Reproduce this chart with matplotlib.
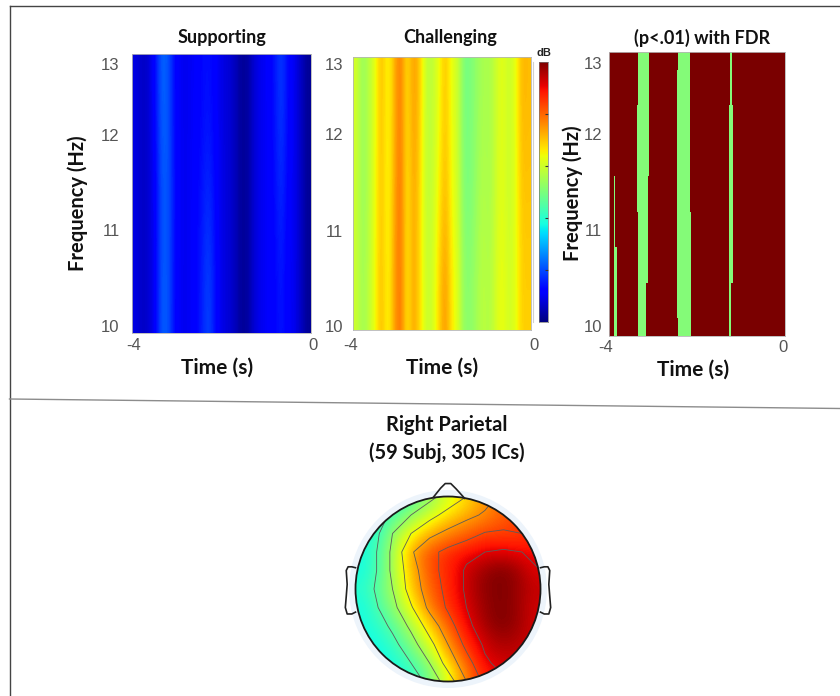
"""Alpha power time-frequency panels and a right parietal scalp map."""

import matplotlib

matplotlib.use("Agg")
import matplotlib.pyplot as plt
import numpy as np
from matplotlib.patches import Circle

WIDTH, HEIGHT = 840, 696

# dB level (0-1 colour scale) per time column, rows run from low to high frequency
supporting_low = [.09, .06, .07, .11, .22, .21, .12, .10, .10, .12, .15, .20, .14, .09,
                  .08, .06, .02, .03, .08, .10, .11, .12, .15, .11, .10, .06, .02]
supporting_mid = [.09, .06, .07, .11, .21, .21, .13, .10, .10, .12, .14, .17, .13, .09,
                  .08, .06, .02, .03, .08, .10, .11, .13, .17, .12, .10, .06, .02]
supporting_high = [.09, .06, .07, .13, .23, .21, .12, .10, .10, .11, .13, .14, .12, .09,
                   .08, .06, .02, .03, .08, .10, .11, .14, .19, .13, .10, .06, .02]
supporting = [supporting_low, supporting_mid, supporting_high]

challenging_low = [.60, .54, .58, .64, .72, .63, .74, .80, .65, .74, .68, .59, .60, .68,
                   .76, .66, .62, .52, .52, .55, .58, .56, .61, .64, .60, .62, .69, .69]
challenging_mid = [.60, .53, .57, .64, .71, .63, .73, .80, .65, .74, .68, .58, .59, .65,
                   .72, .64, .60, .50, .50, .54, .57, .55, .60, .63, .59, .62, .70, .70]
challenging_high = [.61, .53, .57, .63, .72, .63, .72, .79, .66, .75, .70, .58, .58, .63,
                    .71, .63, .60, .49, .50, .53, .56, .55, .60, .63, .59, .62, .72, .71]
challenging = [challenging_low, challenging_mid, challenging_high]

# significant (start, end) time ranges in seconds per frequency row, low to high
sig_rows = [
    [(-3.879, -3.826), (-3.335, -3.153), (-2.443, -2.140), (-1.271, -1.218)],
    [(-3.879, -3.826), (-3.335, -3.153), (-2.465, -2.140), (-1.271, -1.218)],
    [(-3.879, -3.826), (-3.335, -3.123), (-2.465, -2.140), (-1.271, -1.188)],
    [(-3.894, -3.871), (-3.335, -3.123), (-2.465, -2.140), (-1.271, -1.188)],
    [(-3.894, -3.871), (-3.357, -3.123), (-2.465, -2.155), (-1.271, -1.188)],
    [(-3.357, -3.100), (-2.465, -2.155), (-1.271, -1.188)],
    [(-3.357, -3.100), (-2.465, -2.155), (-1.271, -1.188)],
    [(-3.335, -3.100), (-2.465, -2.155), (-1.248, -1.203)],
    [(-3.335, -3.100), (-2.443, -2.155), (-1.248, -1.203)],
]

freq_labels = ["10", "11", "12", "13"]

# scalp map values, top row is the front of the head
topo = [
    [.36, .38, .42, .48, .55, .62, .68, .74, .79, .82, .85],
    [.38, .42, .50, .58, .65, .71, .75, .78, .81, .84, .87],
    [.38, .44, .58, .68, .75, .79, .82, .855, .86, .85, .87],
    [.38, .46, .60, .76, .83, .87, .90, .92, .93, .92, .90],
    [.38, .46, .60, .73, .83, .87, .93, .97, 1.0, .98, .92],
    [.40, .48, .58, .72, .81, .87, .93, .98, 1.0, .98, .94],
    [.38, .46, .55, .67, .79, .86, .92, .97, 1.0, .98, .93],
    [.38, .42, .50, .60, .72, .82, .90, .96, 1.0, .98, .93],
    [.37, .39, .45, .54, .65, .77, .87, .93, .97, .96, .93],
    [.36, .37, .41, .48, .58, .72, .82, .91, .94, .94, .93],
    [.36, .36, .38, .42, .51, .63, .77, .87, .91, .92, .93],
]
topo_levels = [.48, .58, .68, .77, .85, .92]

# head outline in head radii
nose_x = [-.16, -.08, -.03, .03, .09, .18]
nose_y = [.99, 1.09, 1.14, 1.14, 1.08, .98]
ear_x = [1.0, 1.04, 1.08, 1.10, 1.09, 1.10, 1.11, 1.09, 1.04, 1.0]
ear_y = [.23, .24, .24, .20, .05, -.08, -.20, -.27, -.27, -.25]

DARK_RED = "#7a0000"
GREEN = "#84fb78"
TICK_GRAY = "#555555"
TITLE_FONT = "Lato"
TICK_FONT = "Liberation Sans"


def add_axes_px(fig, left, top, right, bottom):
    return fig.add_axes([left / WIDTH, 1 - bottom / HEIGHT,
                         (right - left) / WIDTH, (bottom - top) / HEIGHT])


def put_text(fig, x, y, text, **kwargs):
    kwargs.setdefault("family", TITLE_FONT)
    kwargs.setdefault("weight", "bold")
    kwargs.setdefault("color", "#111111")
    fig.text(x / WIDTH, 1 - y / HEIGHT, text, ha="center", va="center", **kwargs)


def style_panel(fig, ax, title_xy, ytick_rows, tick_pad, time_xy, xtick_px):
    ax.set_xlim(-4, 0)
    ax.set_ylim(0, 8)
    ax.set_xticks([])
    ax.set_yticks(ytick_rows, freq_labels, fontsize=12, color=TICK_GRAY, family=TICK_FONT)
    ax.tick_params(axis="y", length=0, pad=tick_pad)
    for spine in ax.spines.values():
        spine.set_color("#b5b5b5")
        spine.set_linewidth(0.6)
    put_text(fig, *title_xy, fontsize=13)
    put_text(fig, *time_xy, "Time (s)", fontsize=15)
    x_left, x_right, y_label = xtick_px
    for x, label in [(x_left, "-4"), (x_right, "0")]:
        put_text(fig, x, y_label, label, family=TICK_FONT, weight="normal", fontsize=12,
                 color=TICK_GRAY)


def draw_heatmap(ax, values):
    ax.imshow(values, cmap="jet", vmin=0, vmax=1, origin="lower", aspect="auto",
              interpolation="bicubic", extent=[-4, 0, 0, 8])


def draw_colorbar(fig, box):
    ax = add_axes_px(fig, *box)
    ramp = np.linspace(0, 1, 256)[:, None]
    ax.imshow(ramp, cmap="jet", origin="lower", aspect="auto", extent=[0, 1, 0, 1])
    ax.set_xticks([])
    ax.set_yticks([.2, .4, .6, .8], [""] * 4)
    ax.tick_params(axis="y", direction="in", length=2, color="#333333", left=False, right=True)
    for spine in ax.spines.values():
        spine.set_color("#777777")
        spine.set_linewidth(0.5)
    put_text(fig, 544, 53, "dB", family=TICK_FONT, fontsize=8, color="#222222")


def draw_significance(ax):
    ax.set_facecolor(DARK_RED)
    for row, segments in enumerate(sig_rows):
        spans = [(start, end - start) for start, end in segments]
        ax.broken_barh(spans, (row - 0.5, 1), facecolors=GREEN, linewidth=0)


def draw_topo(fig):
    ax = add_axes_px(fig, 330, 470, 566, 696)
    ax.axis("off")
    ax.add_patch(Circle((0, 0), 1.07, facecolor="#edf4fb", edgecolor="none", zorder=0))

    clip = Circle((0, 0), 1.0, transform=ax.transData)
    image = ax.imshow(topo, cmap="jet", vmin=0, vmax=1, extent=[-1, 1, -1, 1], origin="upper",
                      interpolation="bicubic", zorder=1)
    image.set_clip_path(clip)
    grid = np.linspace(-1, 1, len(topo))
    lines = ax.contour(grid, grid[::-1], topo, levels=topo_levels, colors="#5c5c5c",
                       linewidths=0.6, zorder=2)
    lines.set_clip_path(clip)
    ax.set_xlim(-118 / 92.5, 118 / 92.5)
    ax.set_ylim(-107 / 92.5, 119 / 92.5)
    ax.set_aspect("auto")

    ax.add_patch(Circle((0, 0), 1.0, facecolor="none", edgecolor="#1a1a1a", linewidth=1.3, zorder=3))
    outline = dict(color="#222222", linewidth=1.2, zorder=3)
    ax.plot(nose_x, nose_y, **outline)
    ax.plot(ear_x, ear_y, **outline)
    ax.plot(-np.array(ear_x), ear_y, **outline)


def draw_frame(fig):
    ax = fig.add_axes([0, 0, 1, 1])
    ax.set_xlim(0, WIDTH)
    ax.set_ylim(HEIGHT, 0)
    ax.axis("off")
    ax.plot([9.5, 9.5], [6, HEIGHT], color="#444444", linewidth=1.0)
    ax.plot([9.5, WIDTH], [6, 6], color="#444444", linewidth=1.0)
    ax.plot([9.5, WIDTH], [399, 408.5], color="#8c8c8c", linewidth=1.0)
    ax.plot([533, 533], [62, 322], color="#d0d0d0", linewidth=0.8)


def main():
    fig = plt.figure(figsize=(WIDTH / 100, HEIGHT / 100), dpi=100)
    draw_frame(fig)

    ax = add_axes_px(fig, 132, 54, 311, 333)
    draw_heatmap(ax, supporting)
    style_panel(fig, ax, (222, 37, "Supporting"), [.21, 2.94, 5.69, 7.70], 9,
                (217, 368), (134, 313, 346))
    put_text(fig, 78, 203, "Frequency (Hz)", fontsize=14.5, rotation=90)

    ax = add_axes_px(fig, 353, 57, 531, 330)
    draw_heatmap(ax, challenging)
    style_panel(fig, ax, (450, 37, "Challenging"), [.12, 2.90, 5.75, 7.80], 7,
                (442, 368), (351, 534, 345))
    draw_colorbar(fig, (539, 62, 548, 322))

    ax = add_axes_px(fig, 609, 52, 785, 336)
    draw_significance(ax)
    style_panel(fig, ax, (702, 38, "(p<.01) with FDR"), [.28, 2.98, 5.68, 7.70], 5,
                (693, 370), (606, 783, 347))
    put_text(fig, 573, 193, "Frequency (Hz)", fontsize=14.5, rotation=90)

    put_text(fig, 447, 425, "Right Parietal", fontsize=14.5)
    put_text(fig, 447, 453, "(59 Subj, 305 ICs)", fontsize=14.5)
    draw_topo(fig)

    fig.savefig("out.png", dpi=100)
    plt.close(fig)


if __name__ == "__main__":
    main()
